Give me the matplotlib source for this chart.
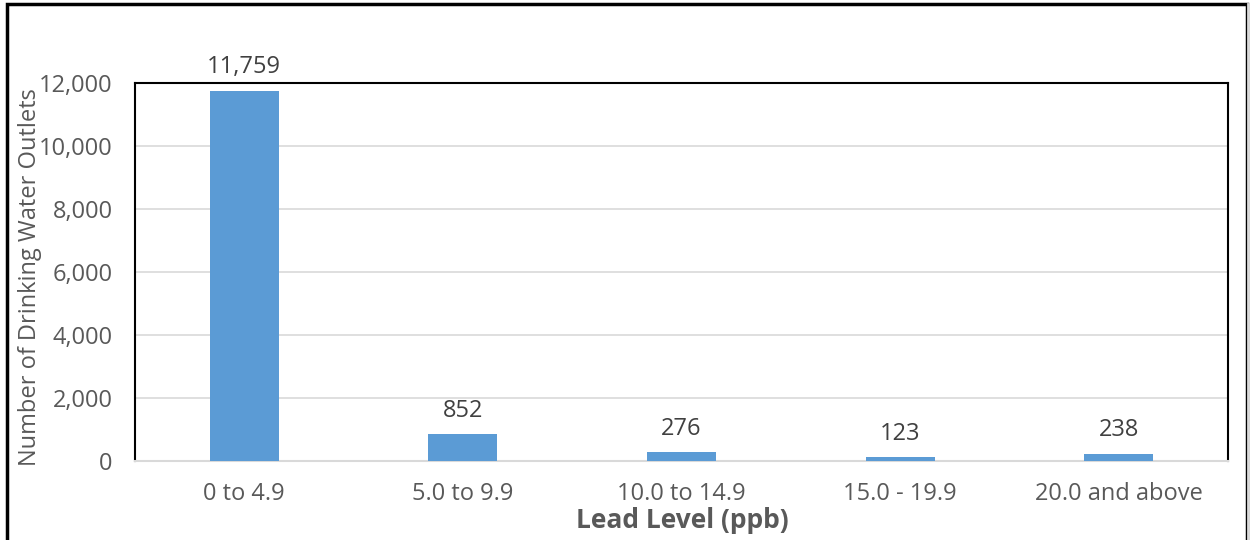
import matplotlib
matplotlib.use('Agg')
from matplotlib import pyplot as plt
from matplotlib.patches import Rectangle

categories = ['0 to 4.9', '5.0 to 9.9', '10.0 to 14.9', '15.0 - 19.9', '20.0 and above']
outlets = [11759, 852, 276, 123, 238]
yticks = [0, 2000, 4000, 6000, 8000, 10000, 12000]

plt.rcParams['font.family'] = ['Open Sans', 'DejaVu Sans']
grey = '#595959'

fig = plt.figure(figsize=(12.5, 5.4), dpi=100)
ax = fig.add_axes([135 / 1250, 1 - 461 / 540, (1228 - 135) / 1250, (461 - 83) / 540])

x = range(len(categories))
ax.bar(x, outlets, width=0.315, color='#5B9BD5', zorder=3)
for i, v in zip(x, outlets):
    ax.annotate(f'{v:,}', (i, v), xytext=(0, 8), textcoords='offset points',
                ha='center', va='bottom', fontsize=17, color='#404040')

ax.set_xlim(-0.5, len(categories) - 0.5)
ax.set_ylim(0, 12000)
ax.set_yticks(yticks)
ax.set_yticklabels([f'{t:,}' for t in yticks])
ax.set_xticks(list(x))
ax.set_xticklabels(categories)
ax.tick_params(axis='both', length=0, labelsize=17, labelcolor=grey)
ax.tick_params(axis='x', pad=15)
ax.tick_params(axis='y', pad=16)
ax.grid(axis='y', color='#D9D9D9', linewidth=1.2, zorder=0)

for s in ['top', 'left', 'right']:
    ax.spines[s].set_color('black')
    ax.spines[s].set_linewidth(1.5)
ax.spines['bottom'].set_color('#D9D9D9')
ax.spines['bottom'].set_linewidth(1.5)

fig.text(30 / 1250, 1 - 277 / 540, 'Number of Drinking Water Outlets', rotation=90,
         ha='center', va='center', fontsize=17, color=grey)
fig.text(682 / 1250, 1 - 521 / 540, 'Lead Level (ppb)', ha='center', va='center',
         fontsize=19, fontweight='bold', color=grey)

# outer frame of the chart box
fig.add_artist(Rectangle((7 / 1250, -0.02), (1247 - 7) / 1250, 1 - 4 / 540 + 0.02,
                         transform=fig.transFigure, fill=False, edgecolor='black', linewidth=2.5))
fig.add_artist(plt.Line2D([1248 / 1250, 1248 / 1250], [0, 1 - 4 / 540],
                          transform=fig.transFigure, color='#D9D9D9', linewidth=2))

fig.savefig('out.png', dpi=100)
